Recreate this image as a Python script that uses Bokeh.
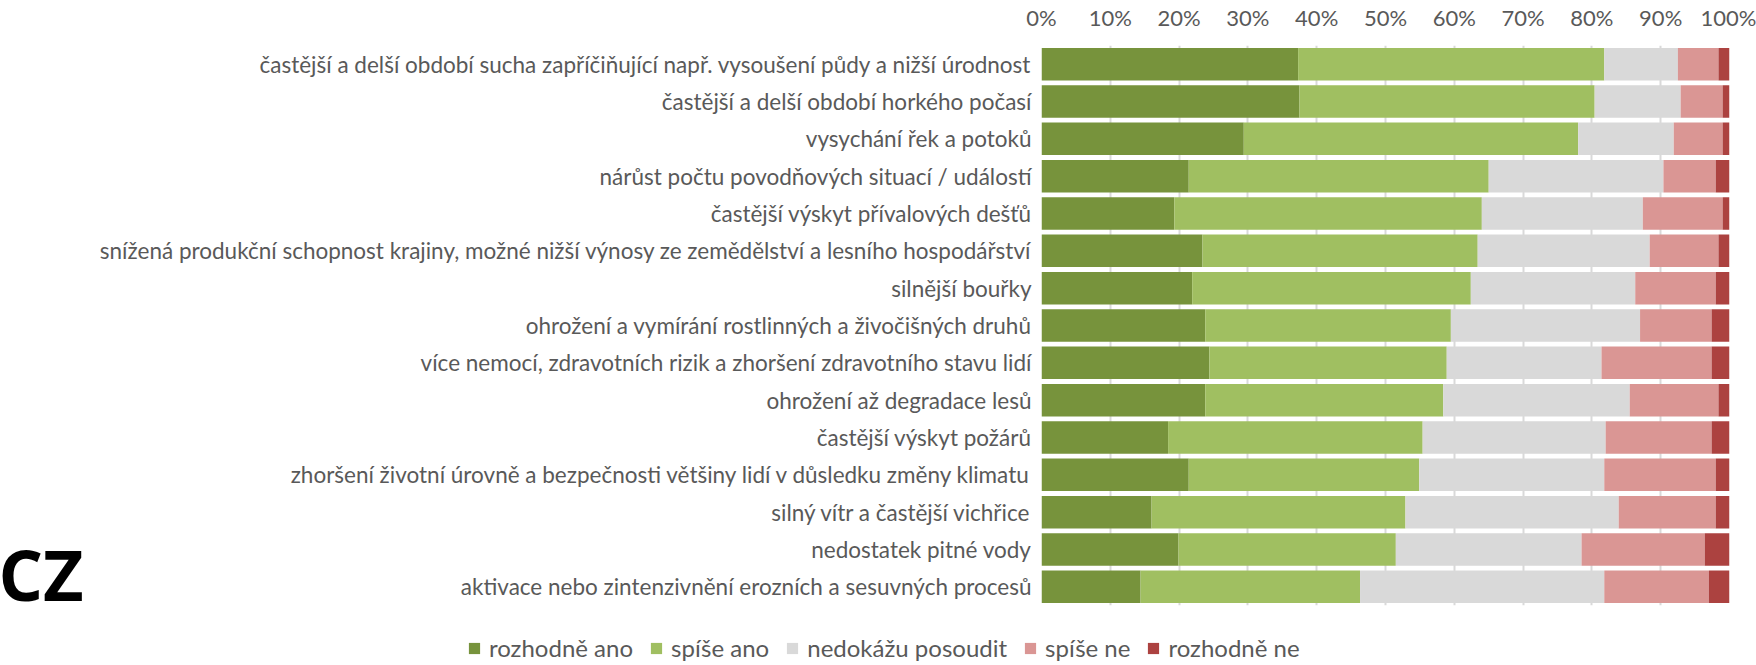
from bokeh.plotting import figure
from bokeh.layouts import column, row
from bokeh.models import (ColumnDataSource, FactorRange, Range1d, FixedTicker,
                          PrintfTickFormatter, Legend, LegendItem, Label)
from bokeh.embed import file_html
from bokeh.resources import INLINE

categories = [
    "častější a delší období sucha zapříčiňující např. vysoušení půdy a nižší úrodnost",
    "častější a delší období horkého počasí",
    "vysychání řek a potoků",
    "nárůst počtu povodňových situací / událostí",
    "častější výskyt přívalových dešťů",
    "snížená produkční schopnost krajiny, možné nižší výnosy ze zemědělství a lesního hospodářství",
    "silnější bouřky",
    "ohrožení a vymírání rostlinných a živočišných druhů",
    "více nemocí, zdravotních rizik a zhoršení zdravotního stavu lidí",
    "ohrožení až degradace lesů",
    "častější výskyt požárů",
    "zhoršení životní úrovně a bezpečnosti většiny lidí v důsledku změny klimatu",
    "silný vítr a častější vichřice",
    "nedostatek pitné vody",
    "aktivace nebo zintenzivnění erozních a sesuvných procesů",
]

rozhodne_ano = [37.3, 37.5, 29.4, 21.4, 19.3, 23.4, 21.9, 23.8, 24.4, 23.8, 18.4, 21.4, 16.0, 19.9, 14.4]
spise_ano = [44.5, 42.9, 48.6, 43.6, 44.7, 40.0, 40.5, 35.7, 34.5, 34.6, 37.0, 33.5, 36.9, 31.6, 31.9]
nedokazu = [10.7, 12.5, 13.9, 25.4, 23.4, 25.0, 23.9, 27.5, 22.5, 27.1, 26.6, 26.9, 31.0, 27.0, 35.5]
spise_ne = [5.9, 6.1, 7.1, 7.6, 11.6, 10.0, 11.7, 10.4, 16.0, 12.9, 15.4, 16.2, 14.1, 17.9, 15.2]
rozhodne_ne = [1.6, 1.0, 1.0, 2.0, 1.0, 1.6, 2.0, 2.6, 2.6, 1.6, 2.6, 2.0, 2.0, 3.6, 3.0]

series_names = ["rozhodně ano", "spíše ano", "nedokážu posoudit", "spíše ne", "rozhodně ne"]
series_keys = ["ra", "sa", "nd", "sn", "rn"]
colors = ["#77933C", "#A0BF61", "#D9D9D9", "#DA9694", "#AC4240"]
x_ticks = [0, 10, 20, 30, 40, 50, 60, 70, 80, 90, 100]
country = "CZ"

TEXT = "#595959"
FONT = "Lato"
ROW_H = 620
CZ_W = 85

source = ColumnDataSource(dict(cat=categories, ra=rozhodne_ano, sa=spise_ano,
                               nd=nedokazu, sn=spise_ne, rn=rozhodne_ne))


def bare(fig):
    fig.outline_line_color = None
    fig.min_border_left = 0
    fig.min_border_right = 0
    fig.min_border_top = 0
    fig.min_border_bottom = 0
    return fig


# --- left strip with the country code ---
cz_fig = bare(figure(width=CZ_W, height=ROW_H, output_backend="svg", toolbar_location=None,
                     x_axis_type=None, y_axis_type=None,
                     x_range=Range1d(0, 1), y_range=Range1d(0, 1)))
cz_fig.add_layout(Label(x=-2, y=32, x_units="screen", y_units="screen", text=country,
                        text_font="Open Sans", text_font_style="bold",
                        text_font_size="70px", text_color="black",
                        text_baseline="middle"))

# --- main chart ---
p = figure(width=1756 - CZ_W, height=ROW_H, output_backend="svg", toolbar_location=None,
           y_range=FactorRange(factors=list(reversed(categories))),
           x_range=Range1d(0, 100), x_axis_location="above",
           min_border_left=1041 - CZ_W, min_border_right=27, min_border_top=43,
           min_border_bottom=15)
p.outline_line_color = None

p.hbar_stack(series_keys, y="cat", height=0.87, color=colors,
             line_color=None, source=source)

xa = p.xaxis[0]
xa.ticker = FixedTicker(ticks=x_ticks)
xa.formatter = PrintfTickFormatter(format="%d%%")
xa.axis_line_color = None
xa.major_tick_line_color = None
xa.minor_tick_line_color = None
xa.major_tick_out = 0
xa.major_tick_in = 0
xa.major_label_text_font = FONT
xa.major_label_text_font_size = "22px"
xa.major_label_text_color = TEXT
xa.major_label_standoff = 15

ya = p.yaxis[0]
ya.axis_line_color = None
ya.major_tick_line_color = None
ya.minor_tick_line_color = None
ya.major_tick_out = 0
ya.major_tick_in = 0
ya.major_label_text_font = FONT
ya.major_label_text_font_size = "22.5px"
ya.major_label_text_color = TEXT
ya.major_label_standoff = 10

p.ygrid.grid_line_color = None
p.xgrid.ticker = FixedTicker(ticks=x_ticks)
p.xgrid.grid_line_color = "#D9D9D9"
p.xgrid.grid_line_width = 2

# --- legend strip: proxies of the same series, zero height and outside the view ---
leg_fig = bare(figure(width=1756, height=45, output_backend="svg", toolbar_location=None,
                      x_axis_type=None, y_axis_type=None,
                      x_range=Range1d(-2, -1),
                      y_range=FactorRange(factors=list(reversed(categories)))))
leg_renderers = leg_fig.hbar_stack(series_keys, y="cat", height=0, color=colors,
                                   line_color=None, source=source)
legend = Legend(items=[LegendItem(label=n, renderers=[r]) for n, r in zip(series_names, leg_renderers)],
                orientation="horizontal", location=(467, 3),
                glyph_width=14, glyph_height=14, label_height=20,
                label_standoff=8, spacing=16, padding=0, margin=0,
                label_text_font=FONT, label_text_font_size="24px",
                label_text_color=TEXT, border_line_color=None,
                background_fill_alpha=0)
leg_fig.add_layout(legend, "center")

layout = column(row(cz_fig, p, spacing=0), leg_fig, spacing=0)

open("out.html", "w").write(file_html(layout, INLINE))
